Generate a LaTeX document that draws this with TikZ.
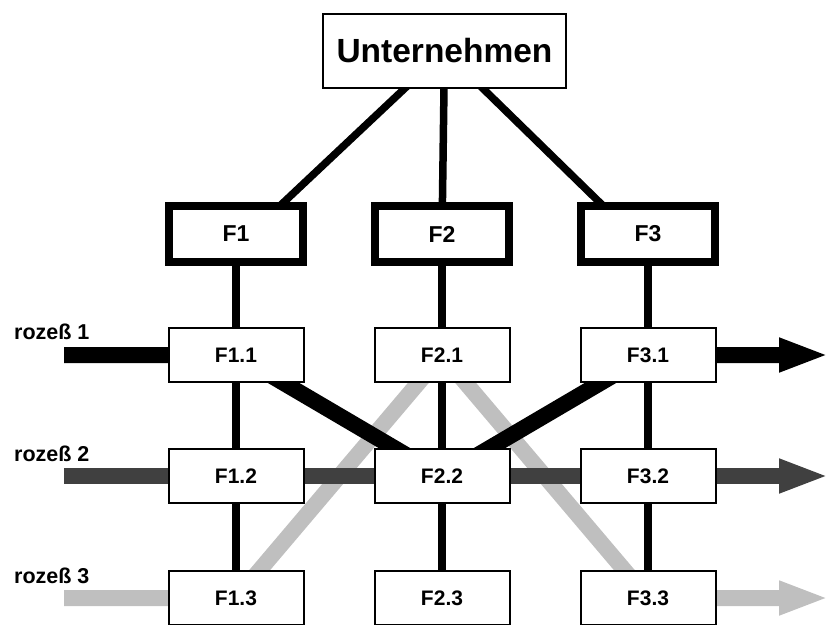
\documentclass[tikz,border=0pt]{standalone}
\usepackage{fontspec}
\setmainfont{Liberation Sans}
\usetikzlibrary{arrows.meta,backgrounds,calc}

\begin{document}
\begin{tikzpicture}[x=1pt,y=-1pt,
		top/.style={draw, fill=white, line width=2pt, minimum width=243pt, minimum height=74pt, inner sep=0pt, font=\fontsize{33.5}{38}\selectfont\bfseries},
		func/.style={draw, fill=white, line width=8pt, minimum width=134pt, minimum height=56pt, inner sep=0pt, font=\fontsize{23}{27}\selectfont\bfseries},
		task/.style={draw, fill=white, line width=2pt, minimum width=135pt, minimum height=54pt, inner sep=0pt, font=\fontsize{21}{25}\selectfont\bfseries},
		proc/.style={anchor=base west, inner sep=0pt, font=\fontsize{21.5}{25}\selectfont\bfseries},
		link/.style={line width=7.5pt},
		flow/.style={line width=16pt, -{Triangle[length=50pt,width=31pt]}}]
		\useasboundingbox (0,0) rectangle (829,624);
		
		% Company and the three functions
		\node[top] (unt) at (444.5,51) {Unternehmen};
		\node[func] (f1) at (236,234) {F1};
		\node[func] (f2) at (442,234) {F2};
		\node[func] (f3) at (648,234) {F3};
		
		% Tasks of each function
		\node[task] (f11) at (236,355) {F1.1};
		\node[task] (f12) at (236,476) {F1.2};
		\node[task] (f13) at (236,598) {F1.3};
		\node[task] (f21) at (442,355) {F2.1};
		\node[task] (f22) at (442,476) {F2.2};
		\node[task] (f23) at (442,598) {F2.3};
		\node[task] (f31) at (648,355) {F3.1};
		\node[task] (f32) at (648,476) {F3.2};
		\node[task] (f33) at (648,598) {F3.3};
		
		% Process labels and their end points
		\node[proc] (r1) at (14,339) {rozeß 1};
		\node[proc] (r2) at (14,461) {rozeß 2};
		\node[proc] (r3) at (14,583) {rozeß 3};
		\coordinate (p1) at (64,355);
		\coordinate (p2) at (64,476);
		\coordinate (p3) at (64,598);
		\coordinate (q1) at (829,355);
		\coordinate (q2) at (829,476);
		\coordinate (q3) at (829,598);
		
		\begin{scope}[on background layer]
			% Process 3 runs lowest
			\draw[flow, gray!50] (p3) -- (f13.center) -- (f21.center) -- (f33.center) -- (q3);
			% Process 2
			\draw[flow, black!75] (p2) -- (f12.center) -- (f22.center) -- (f32.center) -- (q2);
			% Process 1
			\draw[flow, black] (p1) -- (f11.center) -- (f22.center) -- (f31.center) -- (q1);
			
			% Hierarchy lines
			\draw[link] (unt.center) -- ($(f1.center)+(14,0)$);
			\draw[link] (unt.center) -- (f2.center);
			\draw[link] (unt.center) -- ($(f3.center)+(-16,0)$);
			\draw[link] (f1) -- (f11) -- (f12) -- (f13);
			\draw[link] (f2) -- (f21) -- (f22) -- (f23);
			\draw[link] (f3) -- (f31) -- (f32) -- (f33);
		\end{scope}
	\end{tikzpicture}
\end{document}
